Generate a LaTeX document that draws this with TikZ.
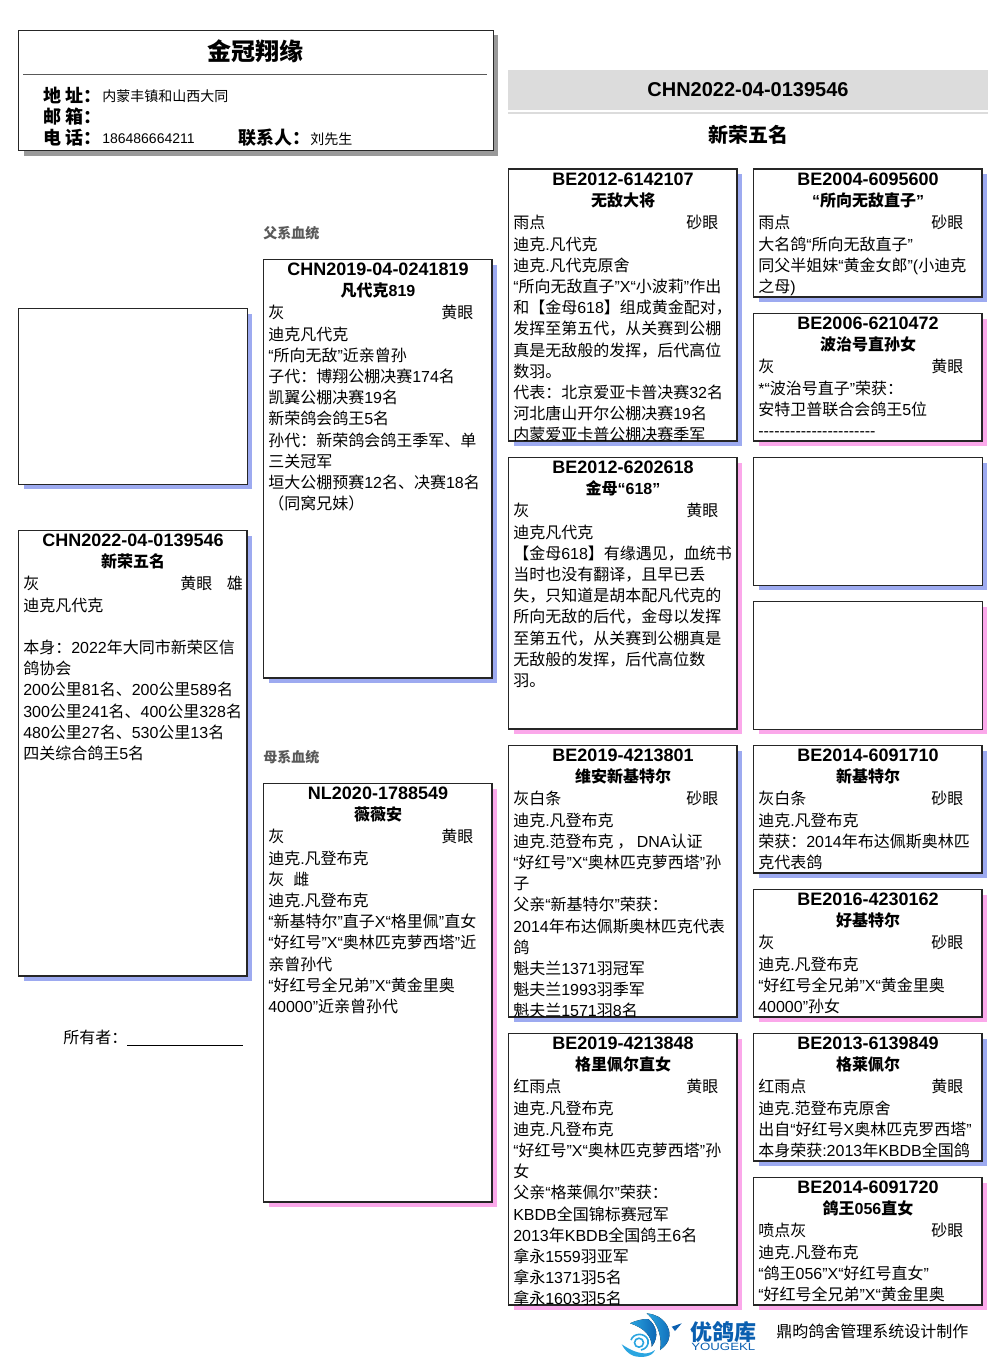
\documentclass[tikz,border=0pt]{standalone}
\usepackage{fontspec}
\usepackage{graphicx}
\usetikzlibrary{shadows}
\setmainfont{Liberation Sans}
\newfontfamily\latinfam{Liberation Sans}
\newfontfamily\cjkfam{Noto Sans CJK SC}
\newXeTeXintercharclass\cjkclass
\newcount\charcnt
\charcnt="3000 \loop \XeTeXcharclass\charcnt=\cjkclass \ifnum\charcnt<"303F \advance\charcnt by 1 \repeat
\charcnt="4E00 \loop \XeTeXcharclass\charcnt=\cjkclass \ifnum\charcnt<"9FFF \advance\charcnt by 1 \repeat
\charcnt="FF00 \loop \XeTeXcharclass\charcnt=\cjkclass \ifnum\charcnt<"FFEF \advance\charcnt by 1 \repeat
\XeTeXinterchartoks 0 \cjkclass={\cjkfam}
\XeTeXinterchartoks \cjkclass 0 ={\latinfam}
\XeTeXinterchartoks 4095 \cjkclass={\cjkfam}
\XeTeXinterchartoks 4095 0 ={\latinfam}
\XeTeXinterchartokenstate=1
\definecolor{sireblue}{HTML}{9DAAF0}
\definecolor{damepink}{HTML}{FBA8EA}
\definecolor{bandgrey}{HTML}{DCDCDC}
\definecolor{logoblue}{HTML}{0A5FB0}
\definecolor{logosky}{HTML}{2AA5E0}
\tikzset{
  card/.style={draw=black!85,line width=.75pt,fill=white,anchor=north west},
  sire/.style={drop shadow={shadow xshift=3.75pt,shadow yshift=-3.75pt,fill=sireblue,opacity=1}},
  dame/.style={drop shadow={shadow xshift=3.75pt,shadow yshift=-3.75pt,fill=damepink,opacity=1}},
  ringtext/.style={font=\fontsize{13.5}{16}\selectfont\bfseries,anchor=center},
  nametext/.style={font=\fontsize{12}{16}\selectfont\bfseries,anchor=center},
  bodytext/.style={font=\fontsize{12}{15.9}\selectfont,align=left,anchor=north west},
  headlabel/.style={font=\fontsize{13.5}{16}\selectfont\bfseries,anchor=base west},
  headvalue/.style={font=\fontsize{10.5}{14}\selectfont,anchor=base west},
  linelabel/.style={font=\fontsize{10.5}{14}\selectfont\bfseries,text=black!65,anchor=base west},
}
% eyes and plumage stand on one line
\newcommand\attr[2]{\makebox[153.75pt][l]{#1\hfill #2}}
% name, x, y, width, height, side, ring, title, lines
\newcommand\pedcard[9]{
  \node (#1) [card,#6,minimum width=#4*.75pt-.75pt,minimum height=#5*.75pt-.75pt] at (#2,#3) {};
  \begin{scope}
    \clip (#1.north west) rectangle (#1.south east);
    \node (#1ring) [ringtext] at ([xshift=.4pt,yshift=-7.5pt]#1.north) {#7};
    \node (#1name) [nametext] at ([xshift=.4pt,yshift=-23.25pt]#1.north) {#8};
    \node (#1body) [bodytext] at ([xshift=3.75pt,yshift=-34.65pt]#1.north west) {#9};
  \end{scope}
  \draw [black!85,line width=.75pt] (#1.north west) rectangle (#1.south east);
}
\begin{document}
\begin{tikzpicture}[x=.75pt,y=-.75pt,every node/.style={inner sep=0pt}]
  \useasboundingbox (0,0) rectangle (1006,1366);
  % breeder's card
  \node (head) [card,minimum width=474.5*.75pt,minimum height=120.5*.75pt,
    drop shadow={shadow xshift=3.75pt,shadow yshift=-3.75pt,fill=black!40,opacity=1}] at (18,30) {};
  \node (farm) [font=\fontsize{18}{22}\selectfont\bfseries] at (255.5,51) {金冠翔缘};
  \coordinate (ruleL) at (23,74);
  \coordinate (ruleR) at (487,74);
  \draw [black!65] (ruleL) -- (ruleR);
  \node (addrL) [headlabel] at (43,103) {地 址：};
  \node (addrV) [headvalue] at (102,102) {内蒙丰镇和山西大同};
  \node (mailL) [headlabel] at (43,124) {邮 箱：};
  \node (telL) [headlabel] at (43,145) {电 话：};
  \node (telV) [headvalue] at (102,143.5) {186486664211};
  \node (manL) [headlabel] at (238,145) {联系人：};
  \node (manV) [headvalue] at (310,144.5) {刘先生};
  % title band
  \fill [bandgrey] (508,70) rectangle (988,110);
  \fill [bandgrey] (508,112) rectangle (988,114);
  \node (bandring) [font=\fontsize{15}{18}\selectfont\bfseries] at (748,90) {CHN2022-04-0139546};
  \node (bandname) [font=\fontsize{15}{18}\selectfont\bfseries] at (748,134.5) {新荣五名};
  % left column
  \node (photo) [card,sire,minimum width=228.5*.75pt,minimum height=175.5*.75pt] at (18,308) {};
  \pedcard{self}{18}{530}{229}{446}{sire}{CHN2022-04-0139546}{新荣五名}{%
    \makebox[117.75pt][l]{灰}黄眼\hspace{11pt}雄\\
    迪克凡代克\\
    \mbox{}\\
    本身：2022年大同市新荣区信\\
    鸽协会\\
    200公里81名、200公里589名\\
    300公里241名、400公里328名\\
    480公里27名、530公里13名\\
    四关综合鸽王5名}
  \node (owner) [font=\fontsize{12}{16}\selectfont,anchor=base west] at (63,1043) {所有者：};
  \coordinate (ownerL) at (127,1045);
  \coordinate (ownerR) at (243,1045);
  \draw (ownerL) -- (ownerR);
  % parents
  \node (sireline) [linelabel] at (263,238.5) {父系血统};
  \pedcard{sa}{263}{259}{229}{419}{sire}{CHN2019-04-0241819}{凡代克819}{%
    \attr{灰}{黄眼}\\
    迪克凡代克\\
    “所向无敌”近亲曾孙\\
    子代：博翔公棚决赛174名\\
    凯翼公棚决赛19名\\
    新荣鸽会鸽王5名\\
    孙代：新荣鸽会鸽王季军、单\\
    三关冠军\\
    垣大公棚预赛12名、决赛18名\\
    （同窝兄妹）}
  \node (dameline) [linelabel] at (263,762.5) {母系血统};
  \pedcard{da}{263}{783}{229}{419}{dame}{NL2020-1788549}{薇薇安}{%
    \attr{灰}{黄眼}\\
    迪克.凡登布克\\
    灰\hspace{6.75pt}雌\\
    迪克.凡登布克\\
    “新基特尔”直子X“格里佩”直女\\
    “好红号”X“奥林匹克萝西塔”近\\
    亲曾孙代\\
    “好红号全兄弟”X“黄金里奥\\
    40000”近亲曾孙代}
  % grandparents
  \pedcard{saa}{508}{169}{229}{272}{sire}{BE2012-6142107}{无敌大将}{%
    \attr{雨点}{砂眼}\\
    迪克.凡代克\\
    迪克.凡代克原舍\\
    “所向无敌直子”X“小波莉”作出\\
    和【金母618】组成黄金配对，\\
    发挥至第五代，从关赛到公棚\\
    真是无敌般的发挥，后代高位\\
    数羽。\\
    代表：北京爱亚卡普决赛32名\\
    河北唐山开尔公棚决赛19名\\
    内蒙爱亚卡普公棚决赛季军}
  \pedcard{sad}{508}{457}{229}{272}{dame}{BE2012-6202618}{金母“618”}{%
    \attr{灰}{黄眼}\\
    迪克凡代克\\
    【金母618】有缘遇见，血统书\\
    当时也没有翻译，且早已丢\\
    失，只知道是胡本配凡代克的\\
    所向无敌的后代，金母以发挥\\
    至第五代，从关赛到公棚真是\\
    无敌般的发挥，后代高位数\\
    羽。}
  \pedcard{das}{508}{745}{229}{272}{sire}{BE2019-4213801}{维安新基特尔}{%
    \attr{灰白条}{砂眼}\\
    迪克.凡登布克\\
    迪克.范登布克 ， DNA认证\\
    “好红号”X“奥林匹克萝西塔”孙\\
    子\\
    父亲“新基特尔”荣获：\\
    2014年布达佩斯奥林匹克代表\\
    鸽\\
    魁夫兰1371羽冠军\\
    魁夫兰1993羽季军\\
    魁夫兰1571羽8名}
  \pedcard{dad}{508}{1033}{229}{272}{dame}{BE2019-4213848}{格里佩尔直女}{%
    \attr{红雨点}{黄眼}\\
    迪克.凡登布克\\
    迪克.凡登布克\\
    “好红号”X“奥林匹克萝西塔”孙\\
    女\\
    父亲“格莱佩尔”荣获：\\
    KBDB全国锦标赛冠军\\
    2013年KBDB全国鸽王6名\\
    拿永1559羽亚军\\
    拿永1371羽5名\\
    拿永1603羽5名}
  % great grandparents
  \pedcard{saas}{753}{169}{229}{128}{sire}{BE2004-6095600}{“所向无敌直子”}{%
    \attr{雨点}{砂眼}\\
    大名鸽“所向无敌直子”\\
    同父半姐妹“黄金女郎”(小迪克\\
    之母)}
  \pedcard{saad}{753}{313}{229}{128}{dame}{BE2006-6210472}{波治号直孙女}{%
    \attr{灰}{黄眼}\\
    *“波治号直子”荣获：\\
    安特卫普联合会鸽王5位\\
    ----------------------}
  \node (sads) [card,sire,minimum width=228.5*.75pt,minimum height=127.5*.75pt] at (753,457) {};
  \node (sadd) [card,dame,minimum width=228.5*.75pt,minimum height=127.5*.75pt] at (753,601) {};
  \pedcard{dass}{753}{745}{229}{128}{sire}{BE2014-6091710}{新基特尔}{%
    \attr{灰白条}{砂眼}\\
    迪克.凡登布克\\
    荣获：2014年布达佩斯奥林匹\\
    克代表鸽}
  \pedcard{dasd}{753}{889}{229}{128}{dame}{BE2016-4230162}{好基特尔}{%
    \attr{灰}{砂眼}\\
    迪克.凡登布克\\
    “好红号全兄弟”X“黄金里奥\\
    40000”孙女}
  \pedcard{dads}{753}{1033}{229}{128}{sire}{BE2013-6139849}{格莱佩尔}{%
    \attr{红雨点}{黄眼}\\
    迪克.范登布克原舍\\
    出自“好红号X奥林匹克罗西塔”\\
    本身荣获:2013年KBDB全国鸽}
  \pedcard{dadd}{753}{1177}{229}{128}{dame}{BE2014-6091720}{鸽王056直女}{%
    \attr{喷点灰}{砂眼}\\
    迪克.凡登布克\\
    “鸽王056”X“好红号直女”\\
    “好红号全兄弟”X“黄金里奥}
  % footer, the logo is drawn by hand
  \fill [left color=logosky,right color=logoblue] (630,1323.3) .. controls (637,1320) and (643,1319) .. (648.3,1319)
    .. controls (656,1325) and (660,1336) .. (651.7,1346.7) .. controls (652,1337) and (645,1328) .. cycle;
  \fill [left color=logosky,right color=logoblue] (646.7,1313.3) .. controls (652,1314) and (655,1315) .. (658.3,1316.7)
    .. controls (668,1322) and (677,1338) .. (660,1350) .. controls (662,1340) and (660,1325) .. cycle;
  \fill [logoblue] (671.7,1326.7) -- (681.7,1323.3) -- (675,1331) -- cycle;
  \fill [logosky] (621.7,1344.3) .. controls (630,1350) and (645,1358) .. (655,1350)
    .. controls (652,1357) and (642,1358) .. (634,1356) .. controls (628,1354) and (624,1349) .. cycle;
  \draw [logosky,line width=1.2pt] (639,1342.7) circle (4.5);
  \draw [logosky,line width=1.2pt] (631,1340) .. controls (633,1333) and (645,1332) .. (648,1340) .. controls (649,1345) and (646,1349) .. (641,1350);
  \node (brand) [font=\fontsize{16.5}{18}\selectfont\bfseries,text=logoblue,anchor=base west] at (690,1340) {优鸽库};
  \node (brandlat) [font=\fontsize{8}{9}\selectfont,text=logoblue,anchor=base west] at (691,1350) {\resizebox{48pt}{5.5pt}{YOUGEKL}};
  \node (maker) [font=\fontsize{12}{16}\selectfont,anchor=base west] at (776,1337) {鼎昀鸽舍管理系统设计制作};
\end{tikzpicture}
\end{document}
